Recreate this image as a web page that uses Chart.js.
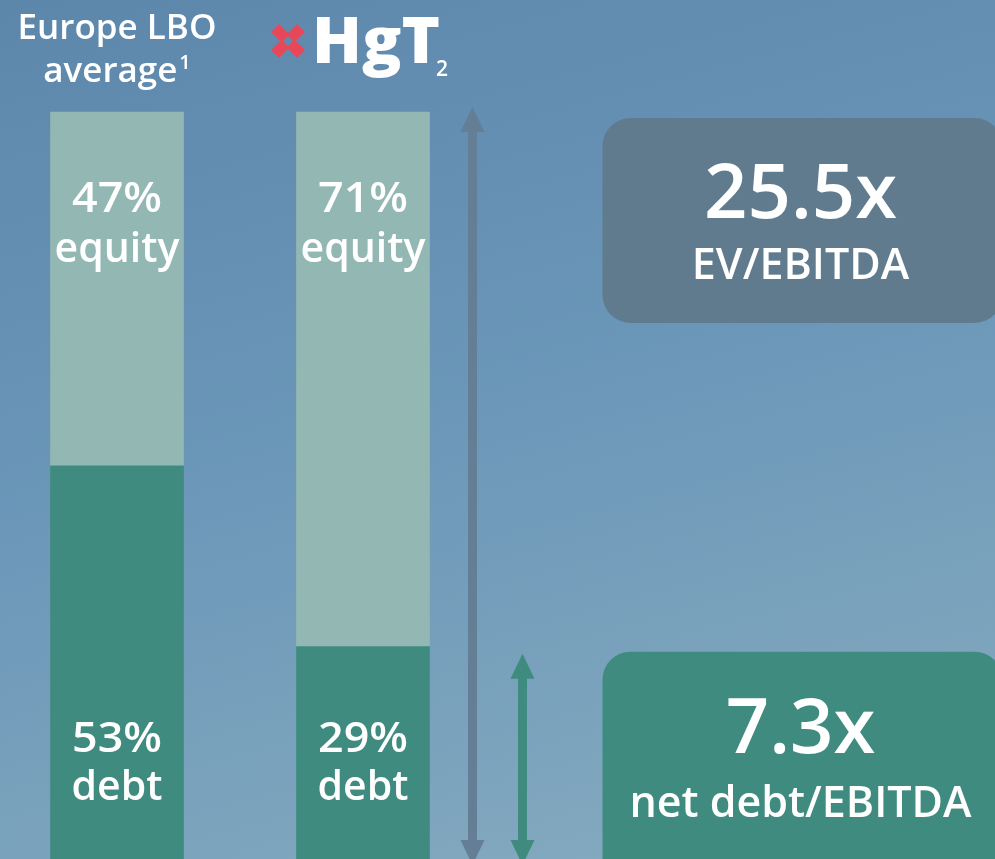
<!DOCTYPE html>
<html>
<head>
<meta charset="utf-8">
<script src="https://cdn.jsdelivr.net/npm/chart.js@4"></script>
<style>
  html, body { margin: 0; padding: 0; overflow: hidden; }
  body { width: 995px; height: 859px; background: linear-gradient(165deg, #5d86ab 0%, #6a96b8 45%, #87acc0 100%); }
  canvas { display: block; }
</style>
</head>
<body>
<canvas id="chart" width="995" height="865"></canvas>
<script>
// values
const categories = ['Europe LBO average', 'HgT'];
const debtPct = [53, 29];
const equityPct = [47, 71];
const multipleValues = ['25.5x', '7.3x'];
const multipleLabels = ['EV/EBITDA', 'net debt/EBITDA'];

const FONT = '"Open Sans", Lato, sans-serif';
const EQUITY = '#93b8b3';
const DEBT = '#3f8b7f';

function arrow(ctx, x, top, bottom, color) {
    ctx.fillStyle = color;
    const hw = 12, hh = 25;
    ctx.fillRect(x - 4.5, top + hh - 1, 9, bottom - top - 2 * hh + 2);
    ctx.beginPath();
    ctx.moveTo(x, top); ctx.lineTo(x + hw, top + hh); ctx.lineTo(x - hw, top + hh);
    ctx.fill();
    ctx.beginPath();
    ctx.moveTo(x, bottom); ctx.lineTo(x + hw, bottom - hh); ctx.lineTo(x - hw, bottom - hh);
    ctx.fill();
}

function roundBox(ctx, x, y, w, h, r, color) {
    ctx.fillStyle = color;
    ctx.beginPath();
    ctx.roundRect(x, y, w, h, r);
    ctx.fill();
}

// text squeezed/stretched to a given width, as on the slide
function fitText(ctx, txt, x, y, width) {
    const w = ctx.measureText(txt).width;
    ctx.save();
    ctx.translate(x, y);
    ctx.scale(width / w, 1);
    ctx.fillText(txt, 0, 0);
    ctx.restore();
}

const decorations = {
    id: 'decorations',
    afterDatasetsDraw(chart) {
        const ctx = chart.ctx;
        const area = chart.chartArea;
        const y = chart.scales.y;
        const debtMeta = chart.getDatasetMeta(0);
        const eqMeta = chart.getDatasetMeta(1);
        ctx.save();
        ctx.fillStyle = '#fff';
        ctx.textAlign = 'center';
        ctx.textBaseline = 'middle';

        // labels inside bars
        categories.forEach((c, i) => {
            const x = debtMeta.data[i].x;
            ctx.font = '600 41px ' + FONT;
            fitText(ctx, equityPct[i] + '%', x, area.top + 88, 90);
            ctx.fillText('equity', x, area.top + 138);
            fitText(ctx, debtPct[i] + '%', x, area.bottom - 125, 90);
            ctx.fillText('debt', x, area.bottom - 77);
        });

        // header over first bar
        const x0 = debtMeta.data[0].x;
        ctx.font = '600 35px ' + FONT;
        ctx.fillText('Europe LBO', x0, 29);
        const avgW = ctx.measureText('average').width;
        ctx.font = '600 20px ' + FONT;
        const supW = ctx.measureText('1').width;
        const startX = x0 - (avgW + supW + 2) / 2;
        ctx.textAlign = 'left';
        ctx.font = '600 35px ' + FONT;
        ctx.fillText('average', startX, 72);
        ctx.font = '600 20px ' + FONT;
        ctx.fillText('1', startX + avgW + 2, 63);

        // HgT logo over second bar
        ctx.save();
        ctx.translate(288, 41);
        ctx.strokeStyle = '#e8475a';
        ctx.lineWidth = 11;
        ctx.beginPath();
        ctx.moveTo(-13, -13); ctx.lineTo(13, 13);
        ctx.moveTo(13, -13); ctx.lineTo(-13, 13);
        ctx.stroke();
        ctx.globalCompositeOperation = 'destination-out';
        ctx.beginPath();
        ctx.moveTo(0, -5); ctx.lineTo(5, 0); ctx.lineTo(0, 5); ctx.lineTo(-5, 0);
        ctx.fill();
        ctx.restore();
        ctx.fillStyle = '#fff';
        ctx.textBaseline = 'alphabetic';
        ctx.font = '800 64px ' + FONT;
        fitText(ctx, 'HgT', 312, 63, 128);
        ctx.font = '600 21px ' + FONT;
        ctx.fillText('2', 436, 76);

        // arrows to the right of the HgT bar
        const bar = eqMeta.data[1];
        const right = bar.x + bar.width / 2;
        const yBottom = y.getPixelForValue(0);
        arrow(ctx, right + 43, y.getPixelForValue(100) - 5, yBottom, '#637e95');
        arrow(ctx, right + 93, y.getPixelForValue(debtPct[1]) + 7, yBottom, DEBT);

        // multiple boxes
        const boxX = right + 173;
        const evTop = y.getPixelForValue(100) + 6;
        roundBox(ctx, boxX, evTop, 400, 205, 28, '#617b8e');
        const ndTop = y.getPixelForValue(debtPct[1]) + 5;
        roundBox(ctx, boxX, ndTop, 400, 240, 28, '#3f8b80');

        ctx.fillStyle = '#fff';
        ctx.textAlign = 'center';
        ctx.textBaseline = 'middle';
        const cx = boxX + 198;
        ctx.font = '600 76px ' + FONT;
        ctx.fillText(multipleValues[0], cx, evTop + 78);
        ctx.fillText(multipleValues[1], cx, ndTop + 80);
        ctx.font = '600 43px ' + FONT;
        ctx.fillText(multipleLabels[0], cx, evTop + 149);
        ctx.fillText(multipleLabels[1], cx, ndTop + 153);
        ctx.restore();
    }
};

new Chart(document.getElementById('chart').getContext('2d'), {
    type: 'bar',
    data: {
        labels: categories,
        datasets: [{
            label: 'debt',
            data: debtPct,
            backgroundColor: DEBT,
            barThickness: 133,
            clip: false
        }, {
            label: 'equity',
            data: equityPct,
            backgroundColor: EQUITY,
            barThickness: 133,
            clip: false
        }]
    },
    options: {
        responsive: false,
        animation: false,
        layout: { padding: { top: 112, left: 117, right: 632, bottom: 0 } },
        plugins: { legend: { display: false }, tooltip: { enabled: false } },
        scales: {
            x: { stacked: true, offset: false, display: false },
            y: { stacked: true, min: 0, max: 100, display: false }
        }
    },
    plugins: [decorations]
});
</script>
</body>
</html>
